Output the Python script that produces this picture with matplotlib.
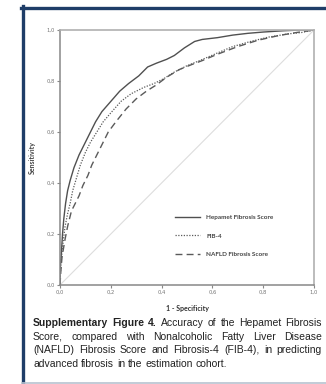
import matplotlib
matplotlib.use("Agg")
import matplotlib.pyplot as plt
from matplotlib.lines import Line2D

# ROC curves (1 - specificity, sensitivity)
hepamet_fpr = [0.0, 0.0, 0.005, 0.01, 0.015, 0.022, 0.03, 0.04, 0.055, 0.075, 0.095, 0.115,
               0.14, 0.165, 0.2, 0.235, 0.27, 0.31, 0.345, 0.38, 0.42, 0.45, 0.49, 0.53,
               0.56, 0.62, 0.68, 0.74, 0.8, 0.88, 0.95, 1.0]
hepamet_tpr = [0.0, 0.05, 0.12, 0.2, 0.26, 0.32, 0.37, 0.41, 0.46, 0.51, 0.55, 0.59,
               0.64, 0.68, 0.72, 0.76, 0.79, 0.82, 0.855, 0.87, 0.885, 0.9, 0.93, 0.955,
               0.963, 0.97, 0.98, 0.987, 0.992, 0.997, 1.0, 1.0]

fib4_fpr = [0.0, 0.003, 0.01, 0.02, 0.03, 0.04, 0.05, 0.065, 0.08, 0.1, 0.12, 0.145,
            0.17, 0.2, 0.24, 0.28, 0.33, 0.37, 0.41, 0.45, 0.5, 0.55, 0.62, 0.68,
            0.75, 0.82, 0.9, 0.95, 1.0]
fib4_tpr = [0.0, 0.08, 0.15, 0.23, 0.28, 0.32, 0.37, 0.42, 0.47, 0.52, 0.56, 0.6,
            0.64, 0.675, 0.72, 0.75, 0.775, 0.79, 0.81, 0.835, 0.86, 0.88, 0.91, 0.935,
            0.955, 0.972, 0.985, 0.99, 1.0]

nafld_fpr = [0.0, 0.003, 0.008, 0.02, 0.03, 0.045, 0.06, 0.075, 0.09, 0.11, 0.125, 0.145,
             0.165, 0.19, 0.22, 0.26, 0.3, 0.34, 0.38, 0.42, 0.47, 0.52, 0.56, 0.62,
             0.7, 0.78, 0.86, 0.93, 1.0]
nafld_tpr = [0.0, 0.05, 0.11, 0.18, 0.23, 0.29, 0.32, 0.35, 0.39, 0.43, 0.47, 0.51,
             0.55, 0.6, 0.64, 0.69, 0.73, 0.76, 0.785, 0.815, 0.845, 0.865, 0.88, 0.905,
             0.935, 0.96, 0.978, 0.99, 1.0]

ticks = [0.0, 0.2, 0.4, 0.6, 0.8, 1.0]
tick_labels = ["0,0", "0,2", "0,4", "0,6", "0,8", "1,0"]

caption_lines = [
    ("Supplementary Figure 4.", "Accuracy of the Hepamet Fibrosis", True),
    ("", "Score, compared with Nonalcoholic Fatty Liver Disease", True),
    ("", "(NAFLD) Fibrosis Score and Fibrosis-4 (FIB-4), in predicting", True),
    ("", "advanced fibrosis in the estimation cohort.", False),
]

W, H = 326, 384
fig = plt.figure(figsize=(W / 100, H / 100), dpi=100)

# frame around the panel
navy = "#1f3d68"
fig.add_artist(Line2D([21.5 / W, 1], [1 - 7.5 / H, 1 - 7.5 / H], color=navy, lw=2.4,
                      transform=fig.transFigure))
fig.add_artist(Line2D([22.5 / W, 22.5 / W], [0, 1 - 6 / H], color=navy, lw=2.4,
                      transform=fig.transFigure))
fig.add_artist(Line2D([22 / W, 1], [1.5 / H, 1.5 / H], color="#b8c2d0", lw=1.2,
                      transform=fig.transFigure))

ax = fig.add_axes([60 / W, 1 - 285 / H, 254 / W, 255 / H])
ax.plot([0, 1], [0, 1], color="#dddddd", lw=0.8, zorder=1)
ax.plot(hepamet_fpr, hepamet_tpr, color="#505050", lw=1.0, label="Hepamet Fibrosis Score")
ax.plot(fib4_fpr, fib4_tpr, color="#5a5a5a", lw=0.9, linestyle=(0, (1, 1.2)), label="FIB-4")
ax.plot(nafld_fpr, nafld_tpr, color="#5a5a5a", lw=1.0, linestyle=(0, (5, 3)),
        label="NAFLD Fibrosis Score")

ax.set_xlim(0, 1)
ax.set_ylim(0, 1)
ax.set_xticks(ticks)
ax.set_yticks(ticks)
ax.set_xticklabels(tick_labels)
ax.set_yticklabels(tick_labels)
ax.tick_params(direction="out", length=2.5, width=0.8, color="#888888",
               labelsize=3.8, labelcolor="#777777", pad=1)
for side in ["top", "right"]:
    ax.spines[side].set_color("#b0b0b0")
    ax.spines[side].set_linewidth(1.2)
for side in ["left", "bottom"]:
    ax.spines[side].set_color("#888888")
    ax.spines[side].set_linewidth(1.1)

ax.set_ylabel("Sensitivity", fontsize=5, fontweight="bold", family="Lato",
              color="#444444", labelpad=8)
ax.set_xlabel("1 - Specificity", fontsize=5, fontweight="bold", family="Lato",
              color="#333333", labelpad=7)

ax.legend(loc="upper left", bbox_to_anchor=(175 / W, 1 - 215 / H),
          bbox_transform=fig.transFigure, frameon=False, borderpad=0,
          borderaxespad=0, handlelength=3.9, handletextpad=1.0, labelspacing=2.0,
          prop={"family": "Lato", "size": 4.6, "weight": "bold"},
          labelcolor="#444444")

# caption, justified like the original
fig.canvas.draw()
renderer = fig.canvas.get_renderer()
fs = 7.5
x0, x1 = 33, 322


def text_width(s, weight):
    t = fig.text(0, 0, s, fontsize=fs, family="Liberation Sans", fontweight=weight)
    w = t.get_window_extent(renderer).width
    t.remove()
    return w


space_w = text_width("a a", "normal") - text_width("aa", "normal")
y = 323
for bold_part, rest, justify in caption_lines:
    runs = [(bold_part.split(), "bold"), (rest.split(), "normal")]
    words, lefts = [], []
    run_start = x0
    for run_words, weight in runs:
        if not run_words:
            continue
        for i, w in enumerate(run_words):
            right = run_start + text_width(" ".join(run_words[:i + 1]), weight)
            lefts.append(right - text_width(w, weight))
            words.append((w, weight))
        run_start = right + space_w
    natural_right = right
    extra = (x1 - natural_right) / (len(words) - 1) if justify else 0.0
    for i, ((w, weight), left) in enumerate(zip(words, lefts)):
        fig.text((left + i * extra) / W, 1 - y / H, w, fontsize=fs,
                 family="Liberation Sans", fontweight=weight, color="#222222",
                 va="center")
    y += 13.7

fig.savefig("out.png", dpi=100)
